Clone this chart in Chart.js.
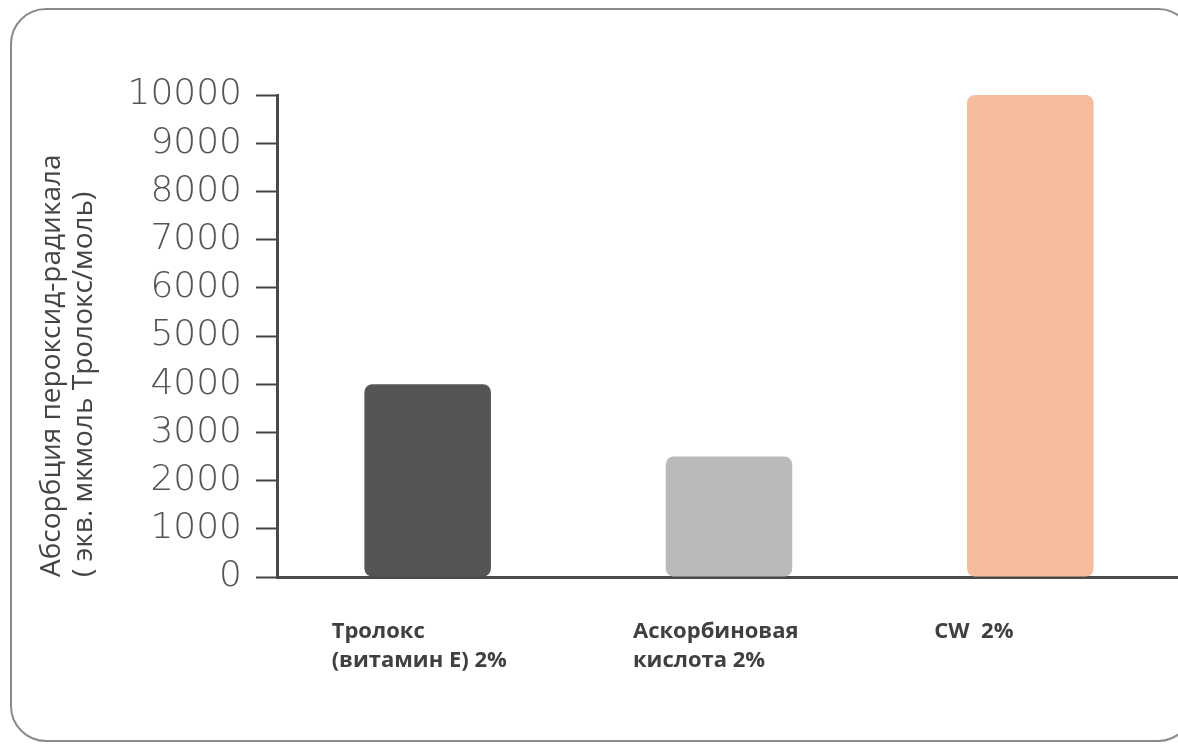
<!DOCTYPE html>
<html lang="ru">
  <head>
    <meta charset="UTF-8" />
    <title>ORAC</title>
    <script src="https://cdn.jsdelivr.net/npm/chart.js@4.4.1/dist/chart.umd.min.js"></script>
    <style>
      html, body { margin: 0; padding: 0; background: #fff; overflow: hidden; }
      .frame {
        position: absolute; left: 10px; top: 8px; width: 1184px; height: 734px;
        border: 2px solid #8a8a8a; border-radius: 36px; box-sizing: border-box;
      }
      .chart-view { position: absolute; left: 0; top: 0; width: 1181px; height: 745px; }
    </style>
  </head>
  <body>
    <div class="frame"></div>
    <div class="chart-view">
      <canvas id="chart"></canvas>
    </div>

    <script>
      //data
      const categories = [
        ['Тролокс', '(витамин E) 2%'],
        ['Аскорбиновая', 'кислота 2%'],
        ['CW  2%']
      ];
      const values = [4000, 2500, 10000];
      const barColors = ['#555556', '#b9babc', '#f7bc9c'];
      const yTitle = ['Абсорбция пероксид-радикала', '( экв. мкмоль Тролокс/моль)'];

      // category labels are left-aligned, shifted left of the bar centre
      const leftLabels = {
        id: 'leftLabels',
        afterDraw(chart) {
          const { ctx, scales } = chart;
          ctx.save();
          ctx.font = 'bold 22px "Open Sans"';
          ctx.fillStyle = '#404040';
          ctx.textAlign = 'left';
          ctx.textBaseline = 'alphabetic';
          categories.forEach((lines, i) => {
            const x = scales.x.getPixelForValue(i) - 96;
            lines.forEach((t, j) => ctx.fillText(t, x, 638 + j * 29));
          });
          ctx.restore();
        }
      };

      //config
      const config = {
        type: 'bar',
        data: {
          labels: categories.map(c => c.join(' ')),
          datasets: [{
            data: values,
            backgroundColor: barColors,
            borderRadius: 8,
            borderSkipped: false,
            barPercentage: 0.84,
            categoryPercentage: 0.5
          }]
        },
        options: {
          responsive: false,
          animation: false,
          layout: { padding: { left: 18, top: 95, right: 0, bottom: 0 } },
          plugins: { legend: { display: false }, tooltip: { enabled: false } },
          scales: {
            x: {
              ticks: { display: false },
              grid: { display: false },
              border: { color: '#4a4a4a', width: 3 },
              afterFit: (s) => { s.height = 745 - 577; }
            },
            y: {
              min: 0,
              max: 10000,
              ticks: {
                stepSize: 1000,
                padding: 14,
                color: '#555',
                font: { family: 'DejaVu Sans', weight: 200, size: 36 },
                callback: (v) => String(v)
              },
              grid: {
                drawOnChartArea: false,
                tickLength: 21,
                tickColor: '#444',
                tickWidth: 2
              },
              border: { color: '#4a4a4a', width: 3 },
              title: {
                display: true,
                align: 'start',
                text: yTitle,
                color: '#444',
                font: { family: 'Open Sans', size: 28, lineHeight: 1.15 },
                padding: { top: 18, bottom: 0 }
              },
              afterFit: (s) => { s.width = 259; }
            }
          }
        },
        plugins: [leftLabels]
      };

      //init
      const ctx = document.getElementById('chart');
      ctx.width = 1181;
      ctx.height = 745;
      const chart = new Chart(ctx, config);
    </script>
  </body>
</html>
